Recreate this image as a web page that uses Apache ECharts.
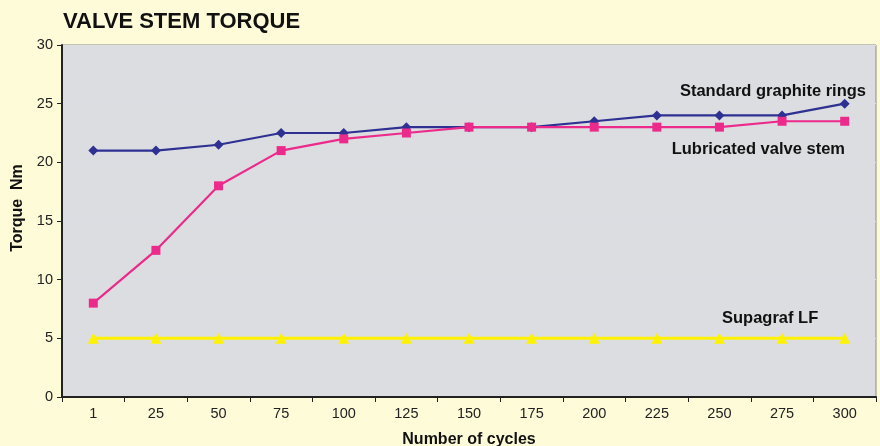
<!DOCTYPE html>
<html><head><meta charset="utf-8">
<script src="https://cdn.jsdelivr.net/npm/echarts@6/dist/echarts.min.js"></script>
<style>html,body{margin:0;padding:0;background:#fefbd8;}#c{width:880px;height:446px;}</style>
</head><body><div id="c"></div>
<script>
const categories = ['1','25','50','75','100','125','150','175','200','225','250','275','300'];
const standardGraphite = [21,21,21.5,22.5,22.5,23,23,23,23.5,24,24,24,25];
const lubricatedStem = [8,12.5,18,21,22,22.5,23,23,23,23,23,23.5,23.5];
const supagrafLF = [5,5,5,5,5,5,5,5,5,5,5,5,5];
const yTicks = {min:0, max:30, interval:5};

const chart = echarts.init(document.getElementById('c'));
const F = 'Liberation Sans, Arial, sans-serif';
chart.setOption({
  backgroundColor:'#fefbd8',
  animation:false,
  title:{text:'VALVE STEM TORQUE', left:58, top:6, textStyle:{fontFamily:F, fontSize:22, fontWeight:'bold', color:'#111'}},
  grid:{left:62, right:4, top:45, bottom:49, show:true, outerBoundsMode:'none', containLabel:false,
    backgroundColor:'#dcdde0', borderColor:'#8a8b8d', borderWidth:1},
  xAxis:{type:'category', data:categories, boundaryGap:true,
    name:'Number of cycles', nameLocation:'middle', nameGap:35,
    nameTextStyle:{fontFamily:F, fontSize:16, fontWeight:'bold', color:'#111'},
    axisLine:{lineStyle:{color:'#222', width:2}},
    axisTick:{show:true, length:5, lineStyle:{color:'#222'}},
    axisLabel:{fontFamily:F, fontSize:14.5, color:'#222', margin:9}},
  yAxis:{type:'value', min:yTicks.min, max:yTicks.max, interval:yTicks.interval,
    name:'Torque  Nm', nameLocation:'middle', nameGap:34,
    nameTextStyle:{fontFamily:F, fontSize:16, fontWeight:'bold', color:'#111', padding:[0,0,0,26]},
    axisLine:{show:true, lineStyle:{color:'#222', width:2}},
    axisTick:{show:true, length:5, lineStyle:{color:'#222'}},
    axisLabel:{fontFamily:F, fontSize:14.5, color:'#222', margin:9}},
  series:[
    {name:'Standard graphite rings', type:'line', data:standardGraphite, symbol:'diamond', symbolSize:10,
     itemStyle:{color:'#2e3192'}, lineStyle:{color:'#2e3192', width:2.2}},
    {name:'Lubricated valve stem', type:'line', data:lubricatedStem, symbol:'rect', symbolSize:9,
     itemStyle:{color:'#ec2a8c'}, lineStyle:{color:'#ec2a8c', width:2.2}},
    {name:'Supagraf LF', type:'line', data:supagrafLF, symbol:'triangle', symbolSize:11,
     itemStyle:{color:'#fff200'}, lineStyle:{color:'#fff200', width:3}}
  ],
  graphic:[
    {type:'text', right:14, top:83, style:{text:'Standard graphite rings', font:'bold 16.5px '+F, fill:'#111'}},
    {type:'text', right:35, top:141, style:{text:'Lubricated valve stem', font:'bold 16.5px '+F, fill:'#111'}},
    {type:'text', left:722, top:310, style:{text:'Supagraf LF', font:'bold 16.5px '+F, fill:'#111'}}
  ]
});
</script></body></html>
